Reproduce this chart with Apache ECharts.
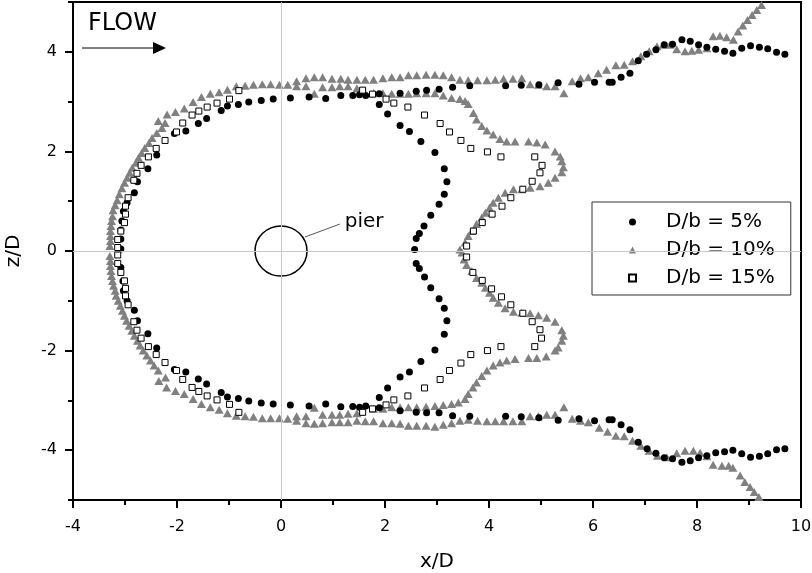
<!DOCTYPE html>
<html><head><meta charset="utf-8">
<script src="https://cdn.jsdelivr.net/npm/echarts@6/dist/echarts.min.js"></script>
<style>html,body{margin:0;padding:0;background:#fff}#c{width:812px;height:573px}</style>
</head><body><div id="c"></div>
<script>
const xTicks=[-4,-2,0,2,4,6,8,10];
const yTicks=[-4,-2,0,2,4];
const yMinorTicks=[-5,-3,-1,1,3,5];
const seriesNames=['D/b = 5%','D/b = 10%','D/b = 15%'];

// D/b = 5%  (black dots)
const dB5=[
[1.15,3.12],[0.86,3.06],[0.54,3.09],[0.18,3.07],[-0.15,3.05],[-0.38,3.02],[-0.62,2.99],[-0.82,2.94],[-1.03,2.91],[-1.15,2.82],[-1.43,2.66],[-1.59,2.56],[-1.83,2.41],[-2.05,2.36],[-2.39,1.93],[-2.56,1.65],[-2.76,1.39],[-2.82,1.17],[-2.96,0.97],[-3.03,0.80],[-3.06,0.60],[-3.08,0.42],[-3.08,0.24],[-3.08,0.04],
[-3.08,-0.33],[-3.04,-0.60],[-3.03,-0.80],[-2.96,-1.00],[-2.82,-1.19],[-2.76,-1.40],[-2.56,-1.66],[-2.39,-1.95],[-2.05,-2.38],[-1.83,-2.43],[-1.59,-2.57],[-1.43,-2.67],[-1.15,-2.84],[-1.03,-2.93],[-0.82,-2.96],[-0.62,-3.01],[-0.38,-3.05],[-0.15,-3.07],[0.18,-3.09],[0.54,-3.11],[0.86,-3.07],[1.15,-3.13],
[1.38,3.12],[1.51,3.14],[1.63,3.12],[1.89,3.16],[2.29,3.17],[2.60,3.21],[2.80,3.23],[3.04,3.25],[3.30,3.29],[3.63,3.32],[4.32,3.32],[4.62,3.33],[4.96,3.34],[5.33,3.38],[5.73,3.35],
[6.03,3.39],[6.31,3.39],[6.37,3.39],[6.54,3.49],[6.71,3.57],[6.87,3.82],[7.03,3.95],[7.21,4.04],[7.37,4.14],[7.53,4.15],[7.71,4.24],[7.87,4.21],[8.03,4.14],[8.19,4.09],[8.36,4.05],[8.53,4.01],[8.69,3.97],[8.86,4.07],[9.03,4.12],[9.20,4.09],[9.36,4.06],[9.53,3.99],[9.69,3.95],
[6.03,-3.41],[6.31,-3.39],[6.37,-3.39],[6.54,-3.49],[6.71,-3.59],[6.87,-3.84],[7.04,-3.97],[7.21,-4.06],[7.37,-4.15],[7.53,-4.17],[7.71,-4.24],[7.87,-4.21],[8.03,-4.15],[8.19,-4.11],[8.36,-4.05],[8.53,-4.03],[8.69,-4.00],[8.86,-4.07],[9.03,-4.14],[9.20,-4.12],[9.36,-4.07],[9.53,-3.99],[9.69,-3.97],
[1.38,-3.12],[1.51,-3.14],[1.63,-3.11],[1.89,-3.15],[2.29,-3.21],[2.60,-3.24],[2.80,-3.25],[3.04,-3.25],[3.30,-3.31],[3.63,-3.32],[4.32,-3.32],[4.62,-3.33],[4.96,-3.35],[5.33,-3.40],[5.73,-3.37],
[1.89,2.94],[2.05,2.75],[2.29,2.52],[2.47,2.40],[2.69,2.20],[2.96,1.98],[3.14,1.65],[3.19,1.39],[3.14,1.14],[3.04,0.94],[2.88,0.72],[2.75,0.50],[2.66,0.35],[2.60,0.25],[2.57,0.03],[2.60,-0.25],[2.66,-0.35],[2.76,-0.52],[2.88,-0.74],[3.04,-0.96],[3.14,-1.15],[3.19,-1.40],[3.14,-1.67],[2.96,-1.99],[2.69,-2.22],[2.47,-2.43],[2.29,-2.53],[2.05,-2.75],[1.89,-2.94]
];

// D/b = 10%  (grey triangles)
const dB10=[
[-0.03,3.34],[0.13,3.34],[0.30,3.41],[0.48,3.47],[0.64,3.49],[0.80,3.49],[0.98,3.46],[1.15,3.46],[0.30,3.31],[0.48,3.31],[0.64,3.16],[0.80,3.29],[0.98,3.29],[1.13,3.31],
[-0.20,3.35],[-0.36,3.35],[-0.53,3.34],[-0.69,3.32],[-0.86,3.31],[-1.03,3.24],[-1.19,3.19],[-1.36,3.16],[-1.53,3.09],[-1.69,2.99],[-1.86,2.86],[-2.03,2.79],[-2.19,2.74],[-2.36,2.61],[-2.23,2.57],[-2.29,2.47],[-2.39,2.37],[-2.48,2.27],[-2.54,2.17],[-2.62,2.07],[-2.68,1.97],[-2.74,1.87],[-2.79,1.77],[-2.86,1.67],[-2.91,1.57],[-2.96,1.47],[-3.01,1.37],[-3.06,1.26],[-3.11,1.14],[-3.15,1.02],[-3.19,0.92],[-3.23,0.82],[-3.24,0.70],[-3.26,0.60],[-3.27,0.50],[-3.28,0.40],[-3.28,0.30],[-3.28,0.20],[-3.29,0.10],
[-3.29,-0.10],[-3.28,-0.20],[-3.28,-0.30],[-3.27,-0.40],[-3.26,-0.50],[-3.24,-0.60],[-3.22,-0.70],[-3.19,-0.80],[-3.17,-0.90],[-3.13,-1.00],[-3.09,-1.10],[-3.05,-1.20],[-3.01,-1.30],[-2.97,-1.40],[-2.92,-1.50],[-2.87,-1.60],[-2.82,-1.70],[-2.76,-1.80],[-2.71,-1.90],[-2.65,-2.00],[-2.58,-2.10],[-2.51,-2.20],[-2.44,-2.30],[-2.36,-2.40],[-2.35,-2.61],[-2.22,-2.54],[-2.20,-2.74],[-2.03,-2.81],[-1.86,-2.87],[-1.69,-2.97],[-1.53,-3.07],[-1.36,-3.14],[-1.19,-3.19],[-1.03,-3.26],[-0.86,-3.31],[-0.69,-3.32],[-0.53,-3.33],[-0.36,-3.36],[-0.20,-3.36],[-0.03,-3.36],[0.13,-3.37],[0.30,-3.32],[0.30,-3.41],[0.48,-3.32],[0.48,-3.46],[0.64,-3.47],[0.64,-3.15],[0.80,-3.46],[0.80,-3.29],[0.98,-3.44],[0.98,-3.29],[1.13,-3.44],[1.13,-3.29],
[1.29,3.44],[1.46,3.44],[1.62,3.44],[1.78,3.44],[1.96,3.47],[2.13,3.49],[2.29,3.49],[2.45,3.53],[2.61,3.53],[2.79,3.54],[2.96,3.54],[3.12,3.53],[3.28,3.49],[3.44,3.44],[3.60,3.43],[3.78,3.43],[3.96,3.43],[4.12,3.44],[4.28,3.46],[4.46,3.46],[4.63,3.47],[4.79,3.35],[4.95,3.34],[5.11,3.31],[5.27,3.31],[5.44,3.17],[5.60,3.41],[5.76,3.47],[5.91,3.49],
[6.10,3.57],[6.26,3.64],[6.44,3.73],[6.60,3.74],[6.76,3.81],[6.92,3.91],[7.08,4.01],[7.23,4.11],[7.35,4.14],[7.48,4.14],[7.61,4.05],[7.77,4.01],[7.90,4.02],[8.03,4.04],[8.19,4.07],[8.31,4.31],[8.44,4.32],[8.57,4.29],[8.70,4.24],[8.79,4.41],[8.88,4.53],[8.97,4.64],[9.06,4.74],[9.15,4.84],[9.24,4.94],
[1.29,3.31],[1.46,3.27],[1.78,3.17],[1.96,3.17],[2.13,3.16],[2.29,3.16],[2.45,3.16],[2.61,3.17],[2.79,3.17],[2.96,3.17],[3.12,3.12],[3.28,3.07],[3.44,3.05],[3.54,3.01],[3.60,2.95],[3.70,2.77],[3.76,2.64],[3.86,2.51],[3.96,2.42],[4.08,2.34],[4.21,2.25],[4.34,2.20],[4.50,2.20],[4.76,2.20],[4.92,2.18],[5.08,2.14],[5.27,2.00],[5.37,1.90],[5.40,1.80],[5.43,1.68],[5.40,1.58],[5.27,1.47],[5.14,1.37],[4.98,1.30],[4.79,1.27],[4.63,1.24],[4.47,1.24],[4.31,1.17],[4.18,1.07],[4.08,0.97],[4.01,0.87],[3.93,0.77],[3.86,0.67],[3.76,0.54],[3.67,0.40],[3.60,0.30],[3.54,0.17],[3.44,0.03],
[3.48,-0.03],[3.52,-0.17],[3.57,-0.28],[3.67,-0.40],[3.76,-0.54],[3.86,-0.64],[3.93,-0.74],[4.01,-0.84],[4.08,-0.94],[4.18,-1.04],[4.31,-1.15],[4.47,-1.22],[4.63,-1.24],[4.79,-1.25],[4.95,-1.29],[5.11,-1.34],[5.27,-1.42],[5.40,-1.59],[5.43,-1.70],[5.40,-1.80],[5.33,-1.94],[5.27,-2.00],[5.10,-2.12],[4.92,-2.15],[4.76,-2.15],[4.50,-2.17],[4.34,-2.20],[4.21,-2.24],[4.08,-2.30],[3.96,-2.40],[3.86,-2.51],[3.76,-2.64],[3.69,-2.74],[3.60,-2.87],[3.54,-2.97],[3.41,-3.04],[3.28,-3.07],[3.12,-3.09],[2.96,-3.11],[2.79,-3.13],[2.61,-3.14],[2.45,-3.14],[2.29,-3.14],[2.13,-3.14],[1.96,-3.17],[1.78,-3.17],[1.46,-3.26],[1.29,-3.27],
[1.29,-3.44],[1.46,-3.41],[1.62,-3.42],[1.78,-3.42],[1.96,-3.46],[2.13,-3.46],[2.29,-3.47],[2.45,-3.51],[2.61,-3.51],[2.79,-3.51],[2.96,-3.53],[3.12,-3.49],[3.28,-3.46],[3.44,-3.41],[3.60,-3.39],[3.78,-3.41],[3.96,-3.42],[4.12,-3.42],[4.28,-3.42],[4.46,-3.42],[4.63,-3.42],[4.79,-3.32],[4.95,-3.32],[5.11,-3.29],[5.27,-3.29],[5.44,-3.14],[5.60,-3.37],[5.76,-3.41],[5.91,-3.44],
[6.12,-3.55],[6.28,-3.63],[6.44,-3.71],[6.60,-3.72],[6.76,-3.81],[6.92,-3.91],[7.08,-4.01],[7.24,-4.11],[7.42,-4.14],[7.61,-4.06],[7.77,-4.01],[7.93,-4.01],[8.06,-4.05],[8.19,-4.12],[8.31,-4.29],[8.48,-4.31],[8.61,-4.31],[8.69,-4.35],[8.83,-4.51],[8.92,-4.64],[9.02,-4.74],[9.10,-4.84],[9.19,-4.94]
];

// D/b = 15%  (open squares)
const dB15=[
[-0.81,3.22],[-0.99,3.05],[-1.23,2.97],[-1.42,2.89],[-1.58,2.81],[-1.71,2.73],[-1.89,2.57],[-2.01,2.39],[-2.23,2.22],[-2.40,2.06],[-2.55,1.89],[-2.69,1.72],[-2.77,1.56],[-2.83,1.42],[-2.94,1.07],[-2.99,0.90],[-2.99,0.74],[-3.01,0.57],[-3.08,0.40],[-3.14,0.23],[-3.14,0.07],
[-3.14,-0.08],[-3.14,-0.25],[-3.08,-0.43],[-3.01,-0.60],[-2.99,-0.75],[-2.99,-0.90],[-2.94,-1.08],[-2.83,-1.42],[-2.77,-1.59],[-2.69,-1.75],[-2.55,-1.92],[-2.40,-2.08],[-2.23,-2.24],[-2.01,-2.40],[-1.89,-2.58],[-1.71,-2.74],[-1.58,-2.82],[-1.42,-2.91],[-1.23,-2.99],[-0.99,-3.08],[-0.81,-3.24],
[1.57,3.23],[1.76,3.15],[2.02,3.05],[2.17,2.97],[2.44,2.89],[2.76,2.73],[3.06,2.56],[3.24,2.39],[3.46,2.22],[3.65,2.06],[3.97,1.99],[4.23,1.89],[4.88,1.89],[5.02,1.72],[4.98,1.57],[4.83,1.40],[4.65,1.24],[4.42,1.07],[4.25,0.90],[4.06,0.74],[3.87,0.57],[3.70,0.40],[3.57,0.10],
[3.57,-0.12],[3.69,-0.43],[3.87,-0.59],[4.05,-0.76],[4.24,-0.92],[4.42,-1.08],[4.65,-1.25],[4.83,-1.42],[4.98,-1.58],[5.01,-1.75],[4.88,-1.92],[4.23,-1.92],[3.97,-2.00],[3.65,-2.08],[3.46,-2.25],[3.24,-2.40],[3.06,-2.58],[2.76,-2.75],[2.44,-2.91],[2.17,-2.99],[2.02,-3.09],[1.76,-3.17],[1.57,-3.24]
];

const pierCenter=[[0,0]];
const pierLeader=[[0.46,0.28],[1.13,0.54]];
const pierText='pier';
const zeroLines=[{xAxis:0},{yAxis:0}];

const FONT='DejaVu Sans';
const G={left:73,right:11,top:2,bottom:73,containLabel:false,outerBoundsMode:'none'};
const chart=echarts.init(document.getElementById('c'),null,{renderer:'canvas'});
chart.setOption({
  animation:false,
  backgroundColor:'#fff',
  grid:[
    Object.assign({show:true,borderColor:'#000',borderWidth:2,backgroundColor:'transparent'},G),
    Object.assign({show:false},G)
  ],
  xAxis:[
   {type:'value',gridIndex:0,min:xTicks[0],max:xTicks[xTicks.length-1],interval:2,
    axisLine:{show:true,onZero:false,lineStyle:{color:'#000',width:2}},
    axisTick:{show:true,inside:false,length:8,lineStyle:{color:'#000',width:2}},
    minorTick:{show:true,splitNumber:2,length:5,lineStyle:{color:'#000',width:2}},
    axisLabel:{color:'#000',fontSize:16,fontFamily:FONT,margin:19,showMinLabel:true,showMaxLabel:true},
    splitLine:{show:false},minorSplitLine:{show:false},
    name:'x/D',nameLocation:'middle',nameGap:52,nameTextStyle:{fontSize:20,fontFamily:FONT,color:'#000'}},
   {type:'value',gridIndex:1,min:xTicks[0],max:xTicks[xTicks.length-1],interval:2,show:false}
  ],
  yAxis:[
   {type:'value',gridIndex:0,min:-5,max:5,position:'left',
    axisLine:{show:true,onZero:false,lineStyle:{color:'#000',width:2}},
    axisTick:{show:true,inside:false,length:8,customValues:yTicks,lineStyle:{color:'#000',width:2}},
    axisLabel:{color:'#000',fontSize:16,fontFamily:FONT,margin:16,customValues:yTicks},
    splitLine:{show:false},
    name:'z/D',nameLocation:'middle',nameGap:49,nameRotate:90,nameTextStyle:{fontSize:20,fontFamily:FONT,color:'#000'}},
   {type:'value',gridIndex:1,min:-5,max:5,position:'left',
    axisLine:{show:true,onZero:false,lineStyle:{color:'rgba(0,0,0,0)',width:0}},
    axisTick:{show:true,inside:false,length:5,customValues:yMinorTicks,lineStyle:{color:'#000',width:2}},
    axisLabel:{show:false,customValues:yMinorTicks},splitLine:{show:false}}
  ],
  legend:{show:true,orient:'vertical',left:592,top:202,data:seriesNames,selectedMode:false,
    itemWidth:7,itemHeight:7,itemGap:8,padding:[10,16,7,36],symbolKeepAspect:true,
    backgroundColor:'#fff',borderColor:'#333',borderWidth:1,
    textStyle:{fontSize:20,fontFamily:FONT,color:'#000',lineHeight:20,padding:[0,0,0,25]}},
  graphic:[
    {type:'text',left:88,top:12,style:{text:'FLOW',font:'24px "DejaVu Sans"',fill:'#000'}},
    {type:'line',shape:{x1:82,y1:48,x2:155,y2:48},style:{stroke:'#000',lineWidth:1}},
    {type:'polygon',shape:{points:[[153,42],[166,48],[153,54]]},style:{fill:'#000'}}
  ],
  series:[
    {type:'line',name:'zero',data:[],z:1,silent:true,
     markLine:{silent:true,symbol:'none',label:{show:false},lineStyle:{color:'#c8c8c8',type:'solid',width:1},data:zeroLines}},
    {type:'scatter',name:'pierCircle',data:pierCenter,symbol:'circle',symbolSize:[52,50],z:2,silent:true,
     itemStyle:{color:'rgba(0,0,0,0)',borderColor:'#000',borderWidth:1.5,opacity:1}},
    {type:'line',name:'pierLeader',data:pierLeader,symbol:'none',z:2,silent:true,
     lineStyle:{color:'#555',width:1},
     endLabel:{show:true,formatter:pierText,distance:5,offset:[0,-2],fontSize:20,fontFamily:FONT,color:'#000'}},
    {type:'scatter',name:seriesNames[1],data:dB10,symbol:'triangle',symbolSize:[9,8],z:3,
     itemStyle:{color:'#808080',opacity:1}},
    {type:'scatter',name:seriesNames[0],data:dB5,symbol:'circle',symbolSize:7,z:4,
     itemStyle:{color:'#000',opacity:1}},
    {type:'scatter',name:seriesNames[2],data:dB15,symbol:'rect',symbolSize:6,z:5,
     itemStyle:{color:'#fff',borderColor:'#000',borderWidth:1,opacity:1}}
  ]
});
</script></body></html>
